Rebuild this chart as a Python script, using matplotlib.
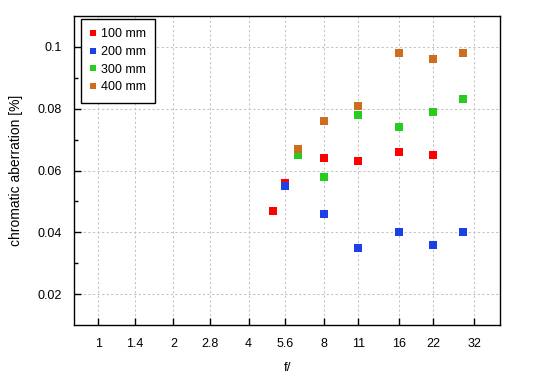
import numpy as np
import matplotlib
matplotlib.use("Agg")
from matplotlib import pyplot as plt
from matplotlib.ticker import FixedLocator, NullFormatter, NullLocator

plt.rcParams["font.family"] = ["Liberation Sans", "DejaVu Sans"]

# f-numbers on the x axis
xticks = [1, 1.4, 2, 2.8, 4, 5.6, 8, 11, 16, 22, 32]
xtick_labels = ["1", "1.4", "2", "2.8", "4", "5.6", "8", "11", "16", "22", "32"]

# chromatic aberration [%] per focal length
f_100 = [5.0, 5.6, 8, 11, 16, 22]
ca_100 = [0.047, 0.056, 0.064, 0.063, 0.066, 0.065]

f_200 = [5.6, 8, 11, 16, 22, 29]
ca_200 = [0.055, 0.046, 0.035, 0.040, 0.036, 0.040]

f_300 = [6.3, 8, 11, 16, 22, 29]
ca_300 = [0.065, 0.058, 0.078, 0.074, 0.079, 0.083]

f_400 = [6.3, 8, 11, 16, 22, 29]
ca_400 = [0.067, 0.076, 0.081, 0.098, 0.096, 0.098]

series = [
    ("100 mm", f_100, ca_100, "#ff0000"),
    ("200 mm", f_200, ca_200, "#1c3fe6"),
    ("300 mm", f_300, ca_300, "#28cc1e"),
    ("400 mm", f_400, ca_400, "#cd6e1e"),
]

fig = plt.figure(figsize=(5.5, 3.8), dpi=100)
ax = fig.add_axes([0.1345, 0.1447, 0.775, 0.8132])

for name, fx, ca, col in series:
    ax.plot(fx, ca, "s", color=col, markersize=5.5, markeredgewidth=0, label=name, zorder=3)

ax.set_xscale("log", base=2)
ax.set_xlim(0.80, 40.7)
ax.set_ylim(0.01, 0.11)

ax.xaxis.set_major_locator(FixedLocator(xticks))
ax.set_xticklabels(xtick_labels)
ax.xaxis.set_minor_locator(NullLocator())
ax.xaxis.set_minor_formatter(NullFormatter())

ax.set_yticks([0.02, 0.04, 0.06, 0.08, 0.1])
ax.set_yticklabels(["0.02", "0.04", "0.06", "0.08", "0.1"])
ax.yaxis.set_minor_locator(FixedLocator([0.03, 0.05, 0.07, 0.09]))

ax.tick_params(axis="both", which="major", direction="in", length=5, width=1,
               labelsize=9, colors="black")
ax.tick_params(axis="x", which="major", pad=9)
ax.tick_params(axis="y", which="major", pad=9)
ax.tick_params(axis="y", which="minor", direction="in", length=3, width=1)

ax.grid(True, which="major", color="#c4c4c4", linestyle=(0, (2.2, 2.2)), linewidth=0.75)
ax.set_axisbelow(True)

for s in ax.spines.values():
    s.set_linewidth(1)
    s.set_color("black")

ax.set_xlabel("f/", fontsize=9.5, labelpad=9)
ax.set_ylabel("chromatic aberration [%]", fontsize=10, labelpad=10)

leg = ax.legend(loc="upper left", fontsize=9, fancybox=False, framealpha=1,
                edgecolor="black", handlelength=0.5, handletextpad=0.35,
                borderpad=0.75, labelspacing=0.45, markerscale=0.85,
                borderaxespad=0, bbox_to_anchor=(0.0164, 0.99))
leg.get_frame().set_linewidth(1)

fig.savefig("out.png", dpi=100)
